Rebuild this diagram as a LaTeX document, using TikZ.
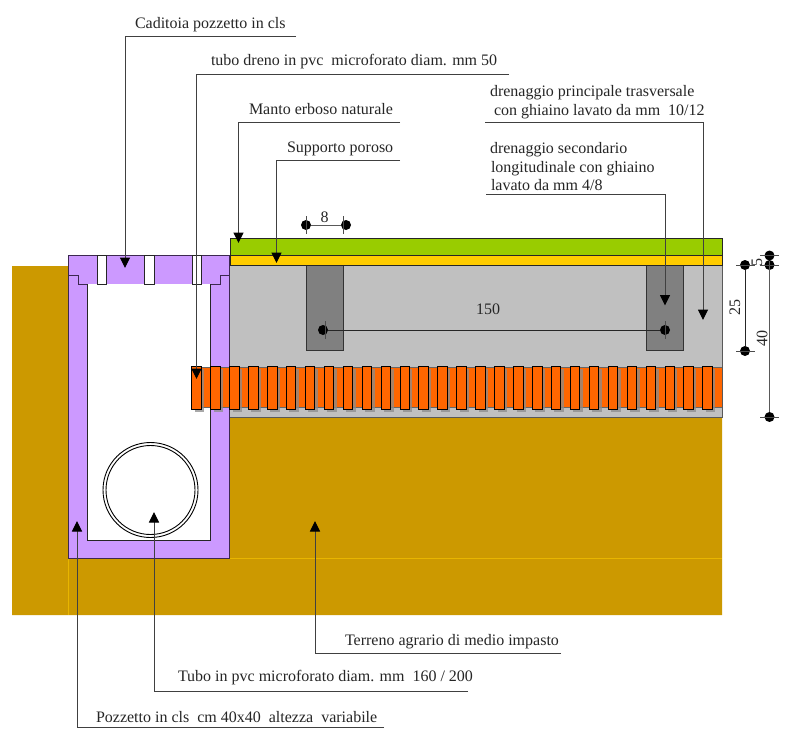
\documentclass[tikz,border=0pt]{standalone}
\usepackage{fontspec}
\setmainfont{Liberation Serif}
\usetikzlibrary{arrows.meta}
\definecolor{soil}{RGB}{204,153,0}
\definecolor{lilac}{RGB}{204,153,255}
\definecolor{grass}{RGB}{153,204,0}
\definecolor{amber}{RGB}{255,204,0}
\definecolor{gravel}{RGB}{192,192,192}
\definecolor{darkgravel}{RGB}{128,128,128}
\definecolor{pipe}{RGB}{255,102,0}
\definecolor{edge}{RGB}{60,40,80}
\tikzset{
 x=1pt,y=-1pt,
 every node/.style={inner sep=0pt,outer sep=0pt},
 lbl/.style={anchor=base west,font=\fontsize{16}{18}\selectfont,text=black!85},
 dimlbl/.style={anchor=center,font=\fontsize{16}{18}\selectfont,text=black!85},
 leader/.style={draw=black!75,line width=1pt,-{Triangle[width=10pt,length=10.5pt,color=black,fill=black]}},
 dimline/.style={draw=black!65,line width=1pt},
 dimdot/.style={circle,fill=black,minimum size=10pt},
 tick/.style={draw=black!70,line width=0.7pt},
 outline/.style={draw=edge,line width=0.8pt},
 bar/.style={fill=pipe,draw=black,line width=0.8pt},
}
\begin{document}
\begin{tikzpicture}
\useasboundingbox (0,0) rectangle (786,733);
\fill[white] (0,0) rectangle (786,733);
% soil
\fill[soil] (12,266) -- (68,266) -- (68,558) -- (230,558) -- (230,417) -- (722,417) -- (722,615) -- (12,615) -- cycle;
\draw[amber!55!soil,line width=0.5pt] (68,558) -- (722,558) (68,558) -- (68,615);
% gravel and layers
\filldraw[fill=gravel,draw=black!65,line width=0.8pt] (229.5,265) rectangle (722,417);
\foreach \x in {306,646}{
  \filldraw[fill=darkgravel,draw=black!80,line width=0.7pt] (\x,265) rectangle ++(37.5,85);
}
\filldraw[fill=grass,draw=black!85,line width=0.7pt] (230,238) rectangle (722,255);
\filldraw[fill=amber,draw=black!85,line width=0.7pt] (230,255) rectangle (722,265);
% manhole
\filldraw[fill=lilac,outline,even odd rule]
  (68.5,255.5) -- (229.5,255.5) -- (229.5,558) -- (68.5,558) -- cycle
  (87.5,284) -- (210.5,284) -- (210.5,540) -- (87.5,540) -- cycle;
\fill[white] (87.5,284) rectangle (210.5,540);
\draw[outline] (68.5,275) -- (78,275) -- (78,284) -- (87.5,284) (229.5,275) -- (220,275) -- (220,284) -- (210.5,284);
\draw[black!85,line width=0.8pt] (87.5,284) -- (87.5,540) -- (210.5,540) -- (210.5,284);
\foreach \x in {97,144.5,192}{
  \filldraw[fill=white,draw=black!85,line width=0.7pt] (\x,255.5) rectangle ++(9.5,28.5);
}
% perforated drain
\fill[pipe] (191.7,367) rectangle (722,407.5);
\draw[black!60,line width=0.5pt] (191.7,367) -- (722,367) (191.7,407.5) -- (722,407.5);
\foreach \i in {0,...,27}{
  \fill[black!45,opacity=0.75] ({194.7+\i*18.93},369) rectangle ++(9.5,43);
}
\foreach \i in {0,...,27}{
  \filldraw[bar] ({191.7+\i*18.93},366) rectangle ++(9.5,43);
}
% circular pipe
\draw[black,line width=0.9pt] (150.5,490) circle (47.5);
\draw[black,line width=0.9pt] (150.5,490) circle (44.5);
% leaders
\node[lbl] (t1) at (135,29) {Caditoia pozzetto in cls};
\node[lbl] (t2) at (211,66) {tubo dreno in pvc\ \ microforato diam. mm 50};
\node[lbl] (t3) at (249,114) {Manto erboso naturale};
\node[lbl] (t4) at (287,152) {Supporto poroso};
\node[lbl] (t5a) at (490,96) {drenaggio principale trasversale};
\node[lbl] (t5b) at (494,115) {con ghiaino lavato da mm\ \ 10/12};
\node[lbl] (t6a) at (490,153) {drenaggio secondario};
\node[lbl] (t6b) at (491,172) {longitudinale con ghiaino};
\node[lbl] (t6c) at (491,190) {lavato da mm 4/8};
\node[lbl] (t7) at (345,645) {Terreno agrario di medio impasto};
\node[lbl] (t8) at (178,681) {Tubo in pvc microforato diam. mm\ \ 160 / 200};
\node[lbl] (t9) at (96,722) {Pozzetto in cls\ \ cm 40x40\ \ altezza\ \ variabile};
\coordinate (a1) at (125,37); \coordinate (b1) at (296,37); \coordinate (c1) at (125,268);
\coordinate (a2) at (196.5,74.5); \coordinate (b2) at (509,74.5); \coordinate (c2) at (196.5,379);
\coordinate (a3) at (238.5,122); \coordinate (b3) at (400,122); \coordinate (c3) at (238.5,243);
\coordinate (a4) at (276.5,160); \coordinate (b4) at (400,160); \coordinate (c4) at (276.5,263);
\coordinate (a5) at (703,122); \coordinate (b5) at (485,122); \coordinate (c5) at (703,320);
\coordinate (a6) at (665,194); \coordinate (b6) at (486,194); \coordinate (c6) at (665,305.5);
\coordinate (a7) at (315,653); \coordinate (b7) at (561,653); \coordinate (c7) at (315,521);
\coordinate (a8) at (154,691); \coordinate (b8) at (468,691); \coordinate (c8) at (154,512);
\coordinate (a9) at (77,727); \coordinate (b9) at (384,727); \coordinate (c9) at (77,521);
\foreach \k in {1,...,9}{
  \draw[leader] (b\k) -- (a\k) -- (c\k);
}
% dimensions
\node[dimdot] (d8a) at (306,225) {};
\node[dimdot] (d8b) at (346,225) {};
\draw[dimline] (d8a) -- (d8b);
\draw[tick] (306,216) -- (306,234) (343,216) -- (343,234);
\node[dimlbl] (l8) at (324.5,217) {8};
\node[dimdot] (d150a) at (323,330) {};
\node[dimdot] (d150b) at (665,330) {};
\draw[dimline,draw=black!85] (d150a) -- (d150b);
\draw[tick] (325,321) -- (325,339) (665,321) -- (665,339);
\node[dimlbl] (l150) at (488,309) {150};
\node[dimdot] (d25a) at (745,265) {};
\node[dimdot] (d25b) at (745,351) {};
\draw[dimline,draw=black!85] (d25a) -- (d25b);
\draw[tick] (736,265) -- (755,265) (736,351) -- (755,351);
\node[dimlbl,rotate=90] (l25) at (735,307) {25};
\node[dimlbl,rotate=90] (l40) at (762,338) {40};
\node[dimlbl,rotate=90] (l5) at (757,262) {5};
\node[dimdot] (d5a) at (769.5,255.5) {};
\node[dimdot] (d5b) at (769.5,265) {};
\node[dimdot] (d40) at (769.5,417) {};
\draw[dimline] (d5a) -- (d40);
\draw[tick] (760,255.5) -- (779,255.5) (760,265) -- (779,265) (760,417) -- (779,417);
\end{tikzpicture}
\end{document}
